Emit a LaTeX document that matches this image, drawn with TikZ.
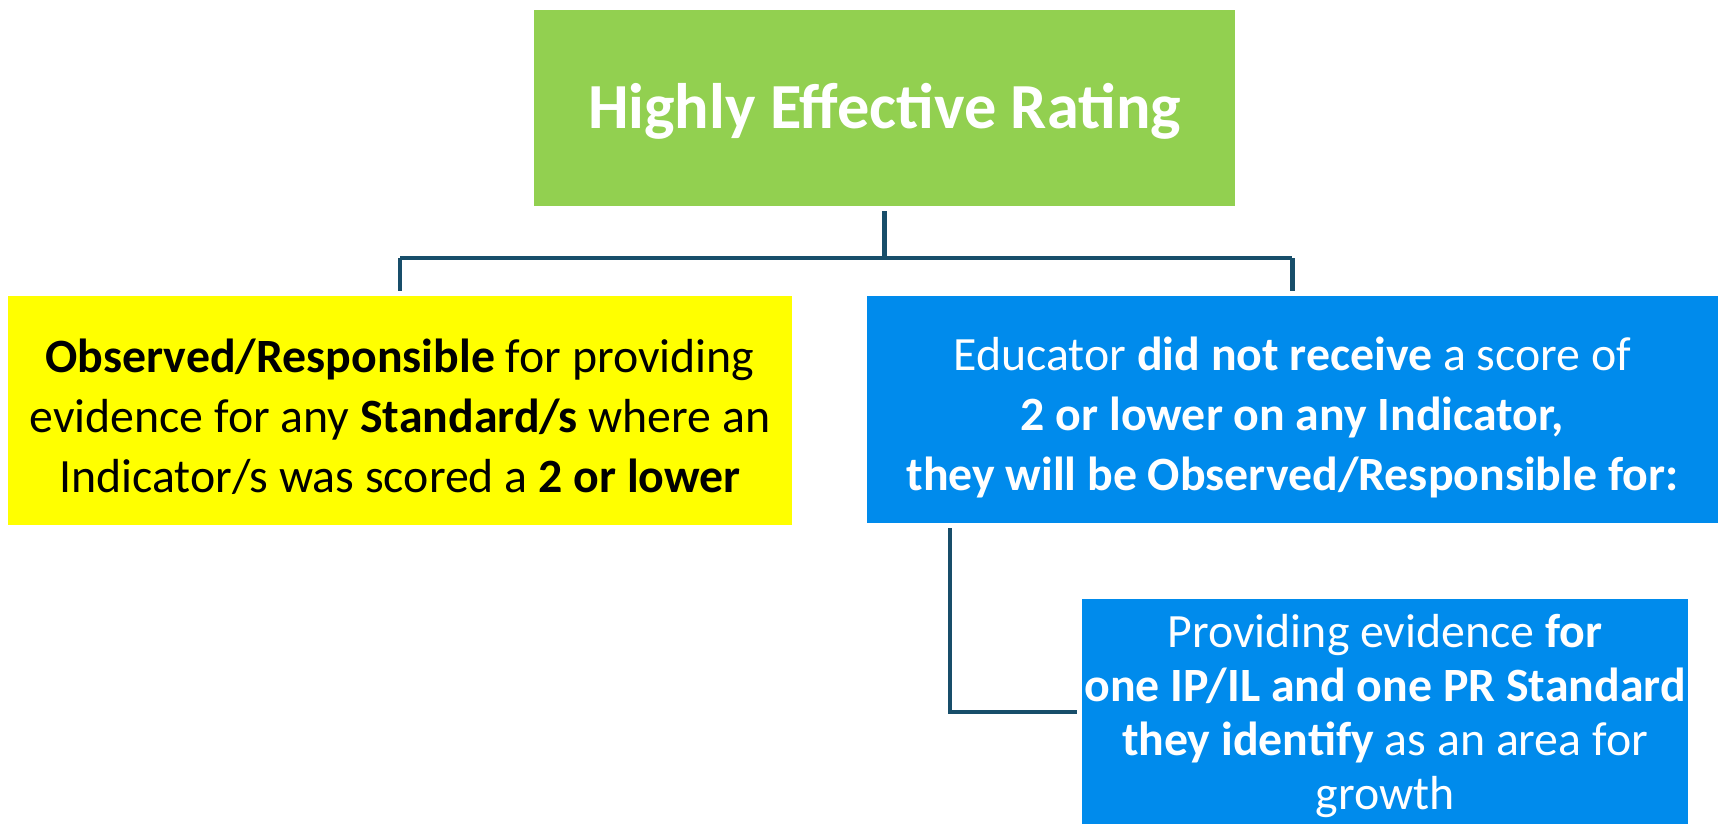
\documentclass[tikz,border=0pt]{standalone}
\usepackage{fontspec}
\setmainfont{Carlito}
\definecolor{hgreen}{RGB}{146,208,80}
\definecolor{hyellow}{RGB}{255,255,0}
\definecolor{hblue}{RGB}{0,139,236}
\definecolor{hline}{RGB}{24,78,106}
\tikzset{
  box/.style={rectangle, inner sep=0pt},
  txt/.style={inner sep=0pt, align=center},
  conn/.style={draw=hline, line width=4.2pt}
}
\newcommand{\ysize}{\fontsize{47.8}{60}\selectfont}
\newcommand{\bsize}{\fontsize{47.8}{54}\selectfont}
\begin{document}
\begin{tikzpicture}[x=1pt,y=-1pt]
\useasboundingbox (0,0) rectangle (1723,824);
% boxes
\node[box, fill=hgreen, minimum width=701pt, minimum height=196pt] (green) at (884.5,108) {};
\node[box, fill=hyellow, minimum width=784pt, minimum height=229pt] (yellow) at (400,410.5) {};
\node[box, fill=hblue, minimum width=851pt, minimum height=227pt] (blue1) at (1292.4,409.5) {};
\node[box, fill=hblue, minimum width=606pt, minimum height=226pt] (blue2) at (1385,712) {};
% texts
\node[txt, text=white, font=\fontsize{64.3}{70}\selectfont\bfseries] (gtext) at (884.5,111) {Highly Effective Rating};
\node[txt, text=black, font=\ysize] (ytext) at (400,420)
  {\strut\textbf{Observed/Responsible} for providing\\\strut evidence for any \textbf{Standard/s} where an\\\strut Indicator/s was scored a \textbf{2 or lower}};
\node[txt, text=white, font=\ysize] (b1text) at (1292.4,418.7)
  {\strut Educator \textbf{did not receive} a score of\\\strut\textbf{2 or lower on any Indicator,}\\\strut\textbf{they will be Observed/Responsible for:}};
\node[txt, text=white, font=\bsize] (b2text) at (1385,717.7)
  {\strut Providing evidence \textbf{for}\\\strut\textbf{one IP/IL and one PR Standard}\\\strut\textbf{they identify} as an area for\\\strut growth};
% connectors
\coordinate (mid) at (884.5,258);
\draw[conn, shorten <=5pt] (green.south) -- (green.south |- mid);
\draw[conn] (yellow.north |- mid) -- (blue1.north |- mid);
\draw[conn, shorten >=5pt] (yellow.north |- mid) -- (yellow.north);
\draw[conn, shorten >=5pt] (blue1.north |- mid) -- (blue1.north);
\draw[conn, shorten <=5pt, shorten >=5pt] ([xshift=83pt]blue1.south west) |- (blue2.west);
\end{tikzpicture}
\end{document}
